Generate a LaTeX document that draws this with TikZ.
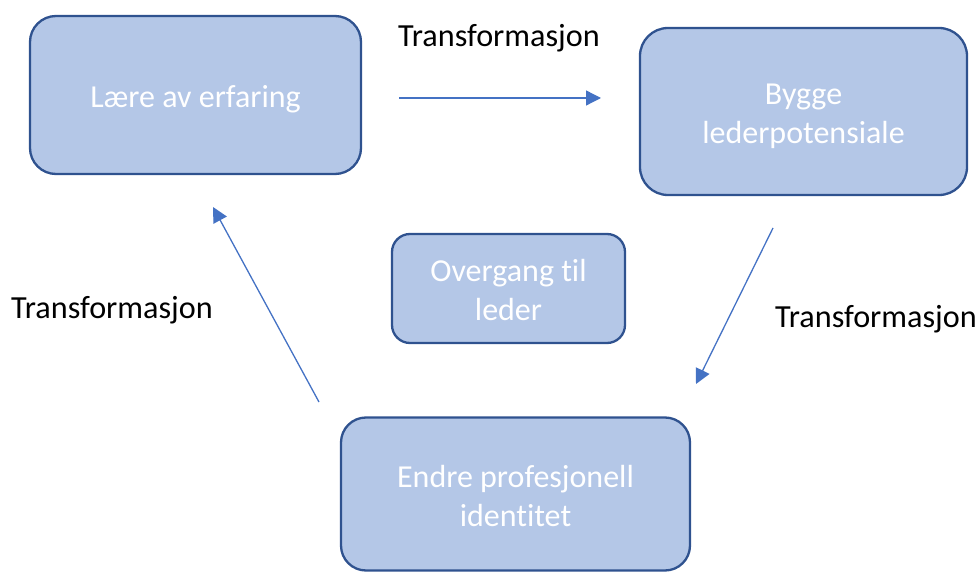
\documentclass[tikz,border=0pt]{standalone}
\usepackage{fontspec}
\setmainfont{Carlito}[Ligatures=NoCommon]
\usetikzlibrary{arrows.meta}
\definecolor{boxfill}{HTML}{B4C7E7}
\definecolor{boxline}{HTML}{2F528F}
\definecolor{arrowcol}{HTML}{4472C4}
\newcommand\wstrut{\rule[-7pt]{0pt}{39pt}}
\tikzset{
  stepbox/.style={draw=boxline, fill=boxfill, line width=2.3pt, text=white,
    align=center, inner sep=0pt, font=\fontsize{32}{39}\selectfont},
  flow/.style={draw=arrowcol, line width=1.3pt, -{Triangle[length=15pt,width=15pt]}},
  lbl/.style={anchor=base, font=\fontsize{32.2}{39}\selectfont, text=black, inner sep=0pt}
}
\begin{document}
\begin{tikzpicture}[x=1pt,y=-1pt]
\useasboundingbox (0,0) rectangle (980,572);
\node[stepbox, minimum width=331pt, minimum height=158pt, rounded corners=26pt] (laere) at (195.5,95) {\wstrut L\ae re av erfaring};
\node[stepbox, minimum width=327pt, minimum height=167pt, rounded corners=28pt] (bygge) at (803.5,111.5) {\wstrut Bygge\\\wstrut lederpotensiale};
\node[stepbox, minimum width=233pt, minimum height=109pt, rounded corners=18pt] (overgang) at (508.5,288.5) {\wstrut Overgang til\\\wstrut leder};
\node[stepbox, minimum width=349pt, minimum height=153pt, rounded corners=25pt] (endre) at (515.5,494) {\wstrut Endre profesjonell\\\wstrut identitet};
\coordinate (a1s) at (399,98);
\coordinate (a1e) at (601,98);
\coordinate (a2s) at (773,228);
\coordinate (a2e) at (696,384);
\coordinate (a3s) at (319,402);
\coordinate (a3e) at (213,207);
\draw[flow] (a1s) -- (a1e);
\draw[flow] (a2s) -- (a2e);
\draw[flow] (a3s) -- (a3e);
\node[lbl] (t1) at (499,47) {Transformasjon};
\node[lbl] (t2) at (876,327) {Transformasjon};
\node[lbl] (t3) at (112,318) {Transformasjon};
\end{tikzpicture}
\end{document}
